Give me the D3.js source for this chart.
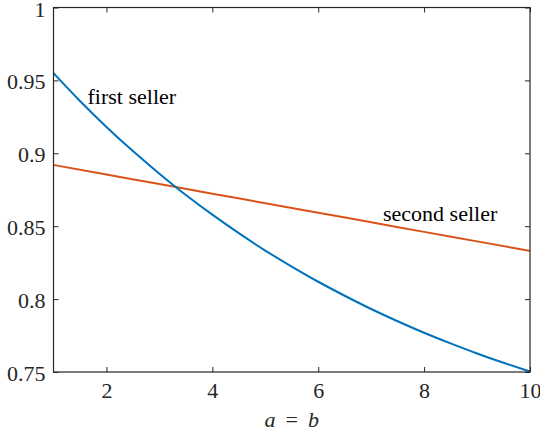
<!DOCTYPE html>
<html>
<head>
<meta charset="utf-8">
<script src="https://cdn.jsdelivr.net/npm/d3@7"></script>
<style>
  html, body { margin: 0; padding: 0; background: #fff; }
  svg { display: block; }
</style>
</head>
<body>
<svg id="chart" width="540" height="432"></svg>
<script>
// Data
const xValues = [1, 1.5, 2, 2.5, 3, 3.5, 4, 4.5, 5, 5.5, 6, 6.5, 7, 7.5, 8, 8.5, 9, 9.5, 10];
const firstSeller = [0.9550, 0.9359, 0.9181, 0.9015, 0.8860, 0.8714, 0.8579, 0.8452, 0.8333, 0.8223, 0.8119, 0.8023, 0.7932, 0.7848, 0.7769, 0.7696, 0.7627, 0.7563, 0.7503];
const secondX = [1, 2, 3, 4, 5, 6, 7, 8, 9, 10];
const secondSeller = [0.8920, 0.8854, 0.8789, 0.8723, 0.8658, 0.8592, 0.8527, 0.8461, 0.8396, 0.8330];
const xTicks = [2, 4, 6, 8, 10];
const yTicks = [0.75, 0.8, 0.85, 0.9, 0.95, 1];
const seriesNames = ["first seller", "second seller"];

const FONT = "Liberation Serif";
const fontSize = "22px";
const axisColor = "#262626";

const svg = d3.select("#chart");
const x = d3.scaleLinear().domain([1, 10]).range([53.5, 530]);
const y = d3.scaleLinear().domain([0.75, 1]).range([372, 7.5]);

function serif(sel) {
  return sel.style("font-family", FONT).style("font-size", fontSize);
}

// Lines
const line = d3.line().x(d => x(d[0])).y(d => y(d[1])).curve(d3.curveNatural);
svg.append("path")
  .datum(secondX.map((v, i) => [v, secondSeller[i]]))
  .attr("d", line).attr("fill", "none").attr("stroke", "#D95319").attr("stroke-width", 2);
svg.append("path")
  .datum(xValues.map((v, i) => [v, firstSeller[i]]))
  .attr("d", line).attr("fill", "none").attr("stroke", "#0072BD").attr("stroke-width", 2);

// Axes (ticks inward, box)
function styleAxis(g) {
  g.attr("font-family", null).attr("font-size", null);
  g.select(".domain").remove();
  g.selectAll(".tick line").attr("stroke", axisColor).attr("stroke-width", 1);
  serif(g.selectAll(".tick text").attr("fill", axisColor));
}
const gx = svg.append("g").attr("transform", `translate(0,${y(0.75)})`)
  .call(d3.axisBottom(x).tickValues(xTicks).tickFormat(d3.format("d")).tickSizeInner(-5).tickSizeOuter(0).tickPadding(10));
styleAxis(gx);
const gxTop = svg.append("g").attr("transform", `translate(0,${y(1)})`)
  .call(d3.axisTop(x).tickValues(xTicks).tickFormat("").tickSizeInner(-5).tickSizeOuter(0));
styleAxis(gxTop);
const gy = svg.append("g").attr("transform", `translate(${x(1)},0)`)
  .call(d3.axisLeft(y).tickValues(yTicks).tickFormat(d => String(+d.toFixed(2))).tickSizeInner(-5).tickSizeOuter(0).tickPadding(8));
styleAxis(gy);
gy.selectAll(".tick text").attr("dy", "0.39em");
const gyR = svg.append("g").attr("transform", `translate(${x(10)},0)`)
  .call(d3.axisRight(y).tickValues(yTicks).tickFormat("").tickSizeInner(-5).tickSizeOuter(0));
styleAxis(gyR);

svg.append("rect")
  .attr("x", x(1)).attr("y", y(1))
  .attr("width", x(10) - x(1)).attr("height", y(0.75) - y(1))
  .attr("fill", "none").attr("stroke", axisColor).attr("stroke-width", 1.2);

// Series labels
serif(svg.append("text").attr("x", 87.5).attr("y", 104).attr("fill", "#000")).text(seriesNames[0]);
serif(svg.append("text").attr("x", 383).attr("y", 221).attr("fill", "#000")).text(seriesNames[1]);

// X label (math style: italic variables, spaced relation)
const xl = serif(svg.append("text").attr("x", (x(1) + x(10)) / 2).attr("y", 427).attr("text-anchor", "middle").attr("fill", axisColor));
xl.append("tspan").style("font-style", "italic").text("a");
xl.append("tspan").attr("dx", 10).text("=");
xl.append("tspan").attr("dx", 10).style("font-style", "italic").text("b");
</script>
</body>
</html>
